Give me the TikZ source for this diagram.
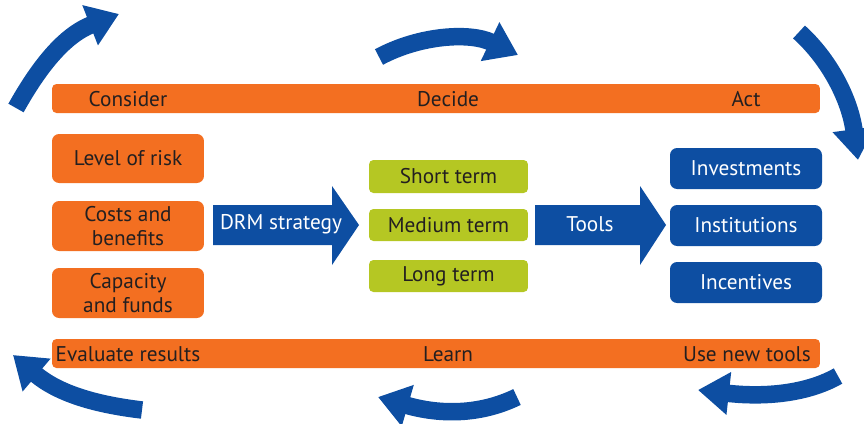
\documentclass[tikz,border=0pt]{standalone}
\usepackage{fontspec}
\setmainfont{PT Sans}
\usetikzlibrary{arrows.meta}
\definecolor{orng}{HTML}{F36F21}
\definecolor{dblue}{HTML}{0D4EA2}
\definecolor{lgreen}{HTML}{B5C723}
\definecolor{dtext}{HTML}{231F20}
\begin{document}
\begin{tikzpicture}[x=0.02cm,y=-0.02cm,
  txt/.style={font=\fontsize{12.1}{14}\selectfont, text=dtext, align=center, inner sep=0pt},
  wtxt/.style={font=\fontsize{12.1}{14}\selectfont, text=white, align=center, inner sep=0pt},
  bar/.style={fill=orng, rounded corners=2.5pt, minimum width=15.36cm, minimum height=0.58cm, inner sep=0pt},
  obox/.style={fill=orng, rounded corners=4pt, minimum width=3.04cm, txt},
  gbox/.style={fill=lgreen, rounded corners=2.5pt, minimum width=3.18cm, txt},
  bbox/.style={fill=dblue, rounded corners=4pt, minimum width=3.04cm, wtxt},
  blockarrow/.style={fill=dblue},
  curv/.style={draw=dblue, line width=0.35cm, -{Triangle[length=0.62cm,width=0.82cm]}}]
\useasboundingbox (0,0) rectangle (864,423);

% bars
\node[bar] (topbar) at (436,98.5) {};
\node[txt] (consider) at (128,99) {Consider};
\node[txt] (decide) at (448,99) {Decide};
\node[txt] (act) at (746,99) {Act};

\node[bar] (botbar) at (436,353.5) {};
\node[txt] (evaluate) at (128,354) {Evaluate results};
\node[txt] (learn) at (448,354) {Learn};
\node[txt] (usenew) at (747,354) {Use new tools};

% left boxes
\node[obox, minimum height=0.98cm] (risk) at (128,158.5) {Level of risk};
\node[obox, minimum height=1.0cm] (costs) at (128,226) {Costs and\\benefits};
\node[obox, minimum height=1.0cm] (capacity) at (128,293) {Capacity\\and funds};

% DRM strategy arrow
\coordinate (d1) at (213,205);
\coordinate (d2) at (332,205);
\coordinate (d3) at (332,186);
\coordinate (d4) at (359,225);
\coordinate (d5) at (332,265);
\coordinate (d6) at (332,245);
\coordinate (d7) at (213,245);
\fill[blockarrow] (d1) -- (d2) -- (d3) -- (d4) -- (d5) -- (d6) -- (d7) -- cycle;
\node[wtxt] (drm) at (281,224) {DRM strategy};

% green boxes
\node[gbox, minimum height=0.66cm] (short) at (448.5,176.5) {Short term};
\node[gbox, minimum height=0.64cm] (medium) at (448.5,225) {Medium term};
\node[gbox, minimum height=0.64cm] (long) at (448.5,276) {Long term};

% Tools arrow
\coordinate (t1) at (535,205);
\coordinate (t2) at (640,205);
\coordinate (t3) at (640,186);
\coordinate (t4) at (666,225);
\coordinate (t5) at (640,265);
\coordinate (t6) at (640,245);
\coordinate (t7) at (535,245);
\fill[blockarrow] (t1) -- (t2) -- (t3) -- (t4) -- (t5) -- (t6) -- (t7) -- cycle;
\node[wtxt] (tools) at (590,224) {Tools};

% blue boxes
\node[bbox, minimum height=0.82cm] (invest) at (746,168.5) {Investments};
\node[bbox, minimum height=0.82cm] (instit) at (746,225.5) {Institutions};
\node[bbox, minimum height=0.82cm] (incent) at (746,282.5) {Incentives};

% curved cycle arrows
\coordinate (a1s) at (16,108);  \coordinate (a1e) at (119,14);
\coordinate (a2s) at (379,57);  \coordinate (a2e) at (518,55);
\coordinate (a3s) at (799,32);  \coordinate (a3e) at (858,160);
\coordinate (a4s) at (838,376); \coordinate (a4e) at (698,390);
\coordinate (a5s) at (517,397); \coordinate (a5e) at (378,397);
\coordinate (a6s) at (142,410); \coordinate (a6e) at (13,355);
\draw[curv] (a1s) .. controls (40,65) and (65,35) .. (a1e);
\draw[curv] (a2s) .. controls (420,35) and (470,32) .. (a2e);
\draw[curv] (a3s) .. controls (830,60) and (850,100) .. (a3e);
\draw[curv] (a4s) .. controls (810,392) and (770,398) .. (a4e);
\draw[curv] (a5s) .. controls (480,415) and (440,415) .. (a5e);
\draw[curv] (a6s) .. controls (100,405) and (60,395) .. (a6e);
\end{tikzpicture}
\end{document}
